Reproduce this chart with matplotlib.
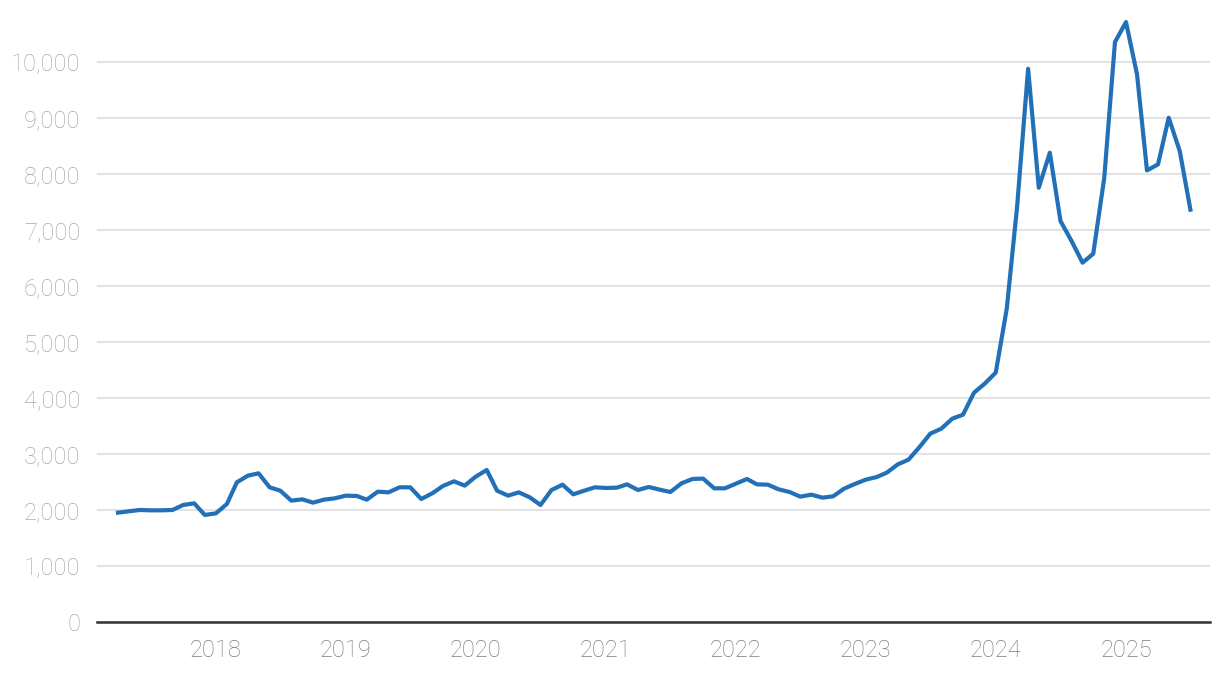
import pandas as pd
import matplotlib
matplotlib.use('Agg')
import matplotlib.pyplot as plt
from matplotlib.ticker import FuncFormatter

# monthly series, Apr 2017 - Jul 2025
start_month = '2017-04-01'
values = [
    1952, 1976, 2000, 1994, 1994, 2000, 2089, 2119, 1911,            # 2017
    1940, 2107, 2494, 2613, 2655, 2405, 2345, 2167, 2190, 2131, 2185, 2208,  # 2018
    2256, 2250, 2185, 2327, 2315, 2405, 2405, 2196, 2298, 2429, 2512, 2435,  # 2019
    2595, 2714, 2345, 2256, 2315, 2226, 2089, 2357, 2452, 2280, 2345, 2405,  # 2020
    2393, 2399, 2458, 2357, 2411, 2363, 2321, 2476, 2554, 2560, 2387, 2387,  # 2021
    2470, 2554, 2458, 2452, 2369, 2321, 2238, 2274, 2220, 2244, 2381, 2464,  # 2022
    2542, 2589, 2667, 2815, 2899, 3125, 3363, 3452, 3631, 3702, 4095, 4256,  # 2023
    4452, 5595, 7411, 9881, 7756, 8381, 7161, 6804, 6417, 6577, 7935, 10357,  # 2024
    10714, 9780, 8065, 8173, 9006, 8411, 7363,                                # 2025
]
dates = pd.date_range(start_month, periods=len(values), freq='MS')

year_ticks = ['2018', '2019', '2020', '2021', '2022', '2023', '2024', '2025']
y_ticks = [0, 1000, 2000, 3000, 4000, 5000, 6000, 7000, 8000, 9000, 10000]

plt.rcParams['font.family'] = ['Roboto', 'DejaVu Sans']

fig = plt.figure(figsize=(12.2, 6.74), dpi=100)
ax = fig.add_axes([0.0795, 0.0772, 0.9123, 0.9138])

ax.plot(dates, values, color='#2170b8', linewidth=3, solid_joinstyle='round', zorder=3)

ax.set_ylim(0, 11000)
ax.set_xlim(pd.Timestamp('2017-02-01'), pd.Timestamp('2025-08-25'))
ax.set_yticks(y_ticks)
ax.yaxis.set_major_formatter(FuncFormatter(lambda v, p: f'{int(v):,}'))
ax.set_xticks([pd.Timestamp(y + '-01-01') for y in year_ticks])
ax.set_xticklabels(year_ticks)

ax.grid(axis='y', color='#e3e3e3', linewidth=1.5, zorder=0)
ax.set_axisbelow(True)
for s in ['top', 'right', 'left']:
    ax.spines[s].set_visible(False)
ax.spines['bottom'].set_color('#333333')
ax.spines['bottom'].set_linewidth(1.8)
ax.spines['bottom'].set_zorder(4)

ax.tick_params(axis='y', length=0, pad=12, labelsize=17, labelcolor='#a8a8a8')
ax.tick_params(axis='x', length=0, pad=12, labelsize=17, labelcolor='#7c7c7c')
for lab in ax.get_xticklabels() + ax.get_yticklabels():
    lab.set_fontweight('light')

fig.savefig('out.png', dpi=100)
